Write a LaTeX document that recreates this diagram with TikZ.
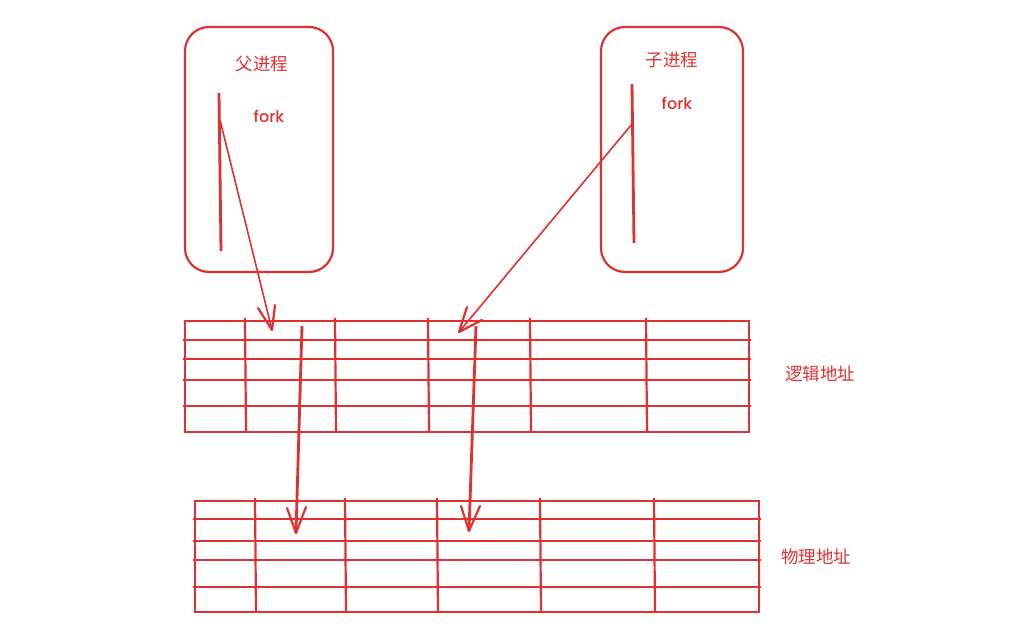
\documentclass[tikz,border=0pt]{standalone}
\usepackage{fontspec}
\newfontfamily\cjk{Noto Sans CJK SC}
\newfontfamily\forkfont{Poppins Medium}
\definecolor{exred}{RGB}{224,49,49}
\begin{document}
\begin{tikzpicture}[x=1pt,y=-1pt,
  proc/.style={draw=exred,line width=2.2pt,rounded corners=24pt},
  lbl/.style={text=exred,font=\cjk\fontsize{17.5}{17.5}\selectfont,inner sep=0pt},
  forklbl/.style={text=exred,font=\forkfont\fontsize{16}{16}\selectfont,inner sep=0pt},
  grid/.style={draw=exred,line width=2.8pt},
  thin/.style={draw=exred,line width=2.2pt},
  conn/.style={draw=exred,line width=1.6pt},
  head/.style={draw=exred,line width=2.2pt,line cap=round,line join=round}]
\useasboundingbox (0,0) rectangle (1020,636);
% process boxes
\draw[proc] (185,27) rectangle (333,272);
\draw[proc] (601,27) rectangle (743,272);
\node[lbl] (ptitle) at (262,64) {父进程};
\node[lbl] (ctitle) at (672,60) {子进程};
\node[forklbl] (pfork) at (269,116) {fork};
\node[forklbl] (cfork) at (677,103) {fork};
\draw[grid] (219,93) -- (221,251);
\draw[grid] (632,84) -- (634,243);
\coordinate (pf) at (220,120);
\coordinate (cf) at (632,124);
% logical table
\draw[thin] (185,321) rectangle (749,432);
\foreach \y in {340,359,380,406} \draw[grid] (183,\y) -- (751,\y);
\foreach \x in {245,335,428,530,646} \draw[thin] (\x,318) -- (\x+1,432);
\node[lbl] (logical) at (820,374) {逻辑地址};
% physical table
\draw[thin] (195,501) rectangle (759,612);
\foreach \y in {519,541,560,587} \draw[grid] (193,\y) -- (761,\y);
\foreach \x in {255,345,437,540,654} \draw[thin] (\x,498) -- (\x+1,612);
\node[lbl] (physical) at (816,557) {物理地址};
% arrows
\coordinate (a1) at (272,330);
\coordinate (a2) at (459,332);
\coordinate (b1s) at (302,326);
\coordinate (b1) at (296,533);
\coordinate (b2s) at (476,326);
\coordinate (b2) at (469,531);
\draw[conn] (pf) -- (a1);
\draw[head] (258,308) -- (a1) -- (275,305);
\draw[conn] (cf) -- (a2);
\draw[head] (467,307) -- (a2) -- (482,320);
\draw[grid] (b1s) -- (b1);
\draw[head] (287,508) -- (b1) -- (306,507);
\draw[grid] (b2s) -- (b2);
\draw[head] (461,506) -- (b2) -- (480,506);
\end{tikzpicture}
\end{document}
